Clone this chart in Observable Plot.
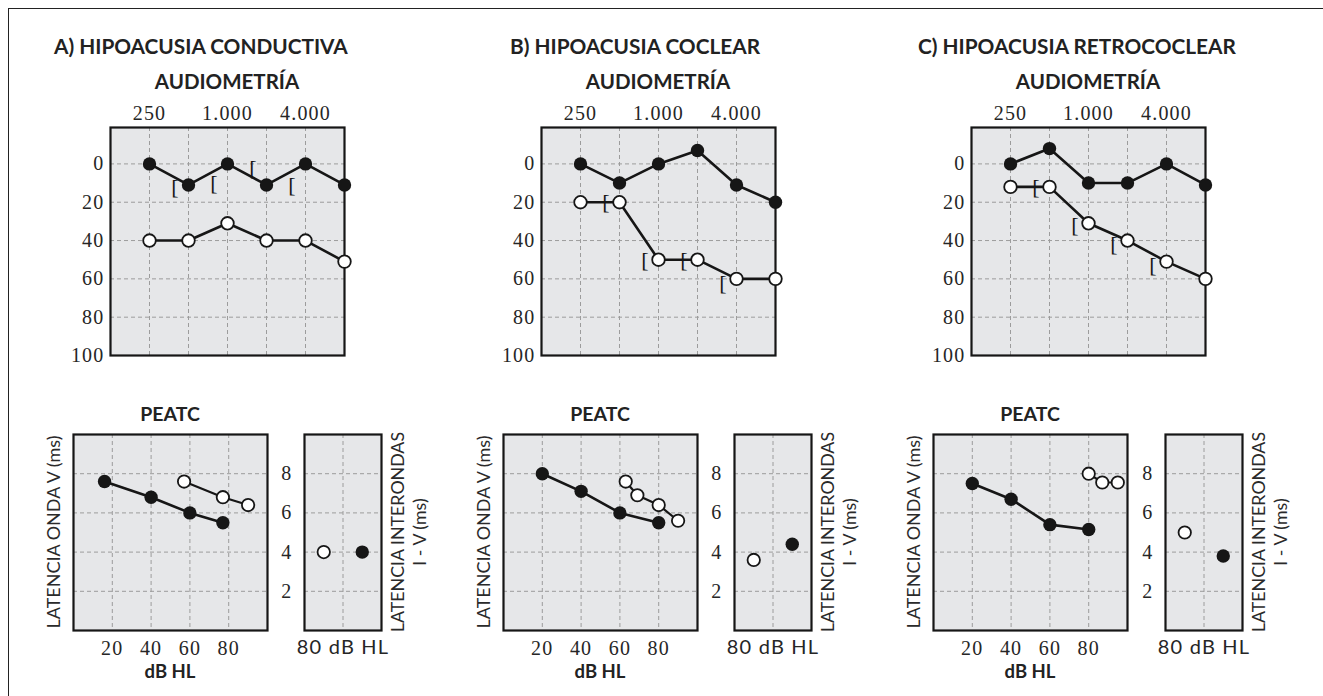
<!DOCTYPE html>
<html><head><meta charset="utf-8">
<script src="https://cdn.jsdelivr.net/npm/d3@7"></script>
<script src="https://cdn.jsdelivr.net/npm/@observablehq/plot@0.6"></script>
<style>
body{margin:0;background:#fff;}
#root{position:relative;width:1323px;height:696px;overflow:hidden;background:#fff;}
.t{position:absolute;white-space:nowrap;line-height:1;color:#222;}
.bold{font-family:Lato,"Open Sans",sans-serif;font-weight:700;}
.light{font-family:Lato,"Open Sans",sans-serif;font-weight:400;color:#2a2a2a;}
.frame{position:absolute;left:8px;top:8px;width:1400px;height:800px;border-left:1.5px solid #222;border-top:1.5px solid #222;}
</style></head>
<body><div id="root"><div class="frame"></div></div>
<script>
// ---------- DATA ----------
const titles = ["A) HIPOACUSIA CONDUCTIVA", "B) HIPOACUSIA COCLEAR", "C) HIPOACUSIA RETROCOCLEAR"];
const freqs = [250, 500, 1000, 2000, 4000, 8000];
const freqTicks = [250, 1000, 4000];
const dbTicks = [0, 20, 40, 60, 80, 100];
const dbGrid = [0, 20, 40, 60, 80];

// audiometry: filled (air, good ear) / open (affected ear) thresholds in dB
const audFilledA = [0, 11, 0, 11, 0, 11];
const audOpenA   = [40, 40, 31, 40, 40, 51];
const boneFreqA  = [500, 1000, 2000, 4000];
const boneA      = [12, 10, 2, 11];

const audFilledB = [0, 10, 0, -7, 11, 20];
const audOpenB   = [20, 20, 50, 50, 60, 60];
const boneFreqB  = [500, 1000, 2000, 4000];
const boneB      = [20, 50, 50, 62];

const audFilledC = [0, -8, 10, 10, 0, 11];
const audOpenC   = [12, 12, 31, 40, 51, 60];
const boneFreqC  = [500, 1000, 2000, 4000];
const boneC      = [12, 32, 42, 53];

// PEATC: wave V latency (ms) vs intensity (dB HL)
const peatcTicks = [20, 40, 60, 80];
const latTicks = [2, 4, 6, 8];
const pFilledXA = [16, 40, 60, 77], pFilledYA = [7.6, 6.8, 6.0, 5.5];
const pOpenXA   = [57, 77, 90],     pOpenYA   = [7.6, 6.8, 6.4];
const pFilledXB = [20, 40, 60, 80], pFilledYB = [8.0, 7.1, 6.0, 5.5];
const pOpenXB   = [63, 69, 80, 90], pOpenYB   = [7.6, 6.9, 6.4, 5.6];
const pFilledXC = [20, 40, 60, 80], pFilledYC = [7.5, 6.7, 5.4, 5.15];
const pOpenXC   = [80, 87, 95],     pOpenYC   = [8.0, 7.55, 7.55];

// interpeak I-V latency at 80 dB HL: [open, filled]
const interA = [4.0, 4.0];
const interB = [3.6, 4.4];
const interC = [5.0, 3.8];

// ---------- LAYOUT / STYLE ----------
const SERIF = '"Liberation Serif", "DejaVu Serif", serif';
const SANS = 'Lato, "Open Sans", sans-serif';
const INK = "#161616", BG = "#e6e7e9", GRID = "#9c9c9c";
const AUD_LEFT = [110, 541, 971], AUD_TOP = 127, AUD_W = 234, AUD_H = 228;
const P_LEFT = [73, 503, 933], P_TOP = 434, P_W = 194, P_H = 196;
const S_LEFT = [304, 734, 1165], S_W = 77;
const TITLE_LEFT = [54, 510, 918];
const tickStyle = {fontFamily: SERIF, fontSize: "20px", letterSpacing: "1.2px", color: "#262626", background: "transparent", overflow: "visible"};

const root = document.getElementById("root");
function place(el, left, top) {
  el.style.position = "absolute"; el.style.left = left + "px"; el.style.top = top + "px";
  root.appendChild(el);
}
function label(text, cls, left, top, size, extra) {
  const d = document.createElement("div");
  d.className = "t " + cls; d.textContent = text;
  d.style.left = left + "px"; d.style.top = top + "px"; d.style.fontSize = size + "px";
  if (extra) Object.assign(d.style, extra);
  root.appendChild(d); return d;
}
const fmtFreq = d => d3.format(",")(d).replace(/,/g, ".");

const panels = [
  {filled: audFilledA, open: audOpenA, boneF: boneFreqA, bone: boneA, pfx: pFilledXA, pfy: pFilledYA, pox: pOpenXA, poy: pOpenYA, inter: interA},
  {filled: audFilledB, open: audOpenB, boneF: boneFreqB, bone: boneB, pfx: pFilledXB, pfy: pFilledYB, pox: pOpenXB, poy: pOpenYB, inter: interB},
  {filled: audFilledC, open: audOpenC, boneF: boneFreqC, bone: boneC, pfx: pFilledXC, pfy: pFilledYC, pox: pOpenXC, poy: pOpenYC, inter: interC}
];

panels.forEach((p, i) => {
  // ---- audiogram ----
  const ml = 50, mt = 40, mr = 20, mb = 6;
  const filled = freqs.map((f, j) => ({f, v: p.filled[j]}));
  const open = freqs.map((f, j) => ({f, v: p.open[j]}));
  const bone = p.boneF.map((f, j) => ({f, v: p.bone[j]}));
  const aud = Plot.plot({
    width: AUD_W + ml + mr, height: AUD_H + mt + mb,
    marginLeft: ml, marginTop: mt, marginRight: mr, marginBottom: mb,
    style: tickStyle,
    x: {type: "log", base: 2, domain: [125, 8000], axis: null},
    y: {domain: [100, -19], axis: null},
    marks: [
      Plot.frame({fill: BG}),
      Plot.ruleX(freqs, {stroke: GRID, strokeDasharray: "4,3", strokeWidth: 1}),
      Plot.ruleY(dbGrid, {stroke: GRID, strokeDasharray: "4,3", strokeWidth: 1}),
      Plot.frame({stroke: INK, strokeWidth: 2.2}),
      Plot.axisX(freqTicks, {anchor: "top", tickSize: 0, tickPadding: 8, tickFormat: fmtFreq, label: null}),
      Plot.axisY(dbTicks, {anchor: "left", tickSize: 0, tickPadding: 6, label: null}),
      Plot.text(bone, {x: "f", y: "v", text: () => "[", dx: -13, fontSize: 22, fontFamily: SERIF, fill: INK}),
      Plot.line(filled, {x: "f", y: "v", stroke: INK, strokeWidth: 2.6}),
      Plot.line(open, {x: "f", y: "v", stroke: INK, strokeWidth: 2.6}),
      Plot.dot(filled, {x: "f", y: "v", r: 6.7, fill: INK}),
      Plot.dot(open, {x: "f", y: "v", r: 6.3, fill: "white", stroke: INK, strokeWidth: 1.8})
    ]
  });
  place(aud, AUD_LEFT[i] - ml, AUD_TOP - mt);

  // ---- PEATC main ----
  const pl = 10, pt = 10, pr = 10, pb = 50;
  const pf = p.pfx.map((x, j) => ({x, y: p.pfy[j]}));
  const po = p.pox.map((x, j) => ({x, y: p.poy[j]}));
  const pe = Plot.plot({
    width: P_W + pl + pr, height: P_H + pt + pb,
    marginLeft: pl, marginTop: pt, marginRight: pr, marginBottom: pb,
    style: tickStyle,
    x: {domain: [0, 100], axis: null},
    y: {domain: [0, 10], axis: null},
    marks: [
      Plot.frame({fill: BG}),
      Plot.ruleX(peatcTicks, {stroke: GRID, strokeDasharray: "4,3", strokeWidth: 1}),
      Plot.ruleY(latTicks, {stroke: GRID, strokeDasharray: "4,3", strokeWidth: 1}),
      Plot.frame({stroke: INK, strokeWidth: 2.2}),
      Plot.axisX(peatcTicks, {anchor: "bottom", tickSize: 0, tickPadding: 10, label: null}),
      Plot.line(pf, {x: "x", y: "y", stroke: INK, strokeWidth: 2.6}),
      Plot.line(po, {x: "x", y: "y", stroke: INK, strokeWidth: 2.2}),
      Plot.dot(pf, {x: "x", y: "y", r: 6.7, fill: INK}),
      Plot.dot(po, {x: "x", y: "y", r: 6.2, fill: "white", stroke: INK, strokeWidth: 1.8})
    ]
  });
  place(pe, P_LEFT[i] - pl, P_TOP - pt);

  // ---- interpeak I-V ----
  const sl = 40, st = 10, sr = 10, sb = 50;
  const inter = p.inter.map((y, j) => ({k: j + 0.5, y, open: j === 0}));
  const sm = Plot.plot({
    width: S_W + sl + sr, height: P_H + st + sb,
    marginLeft: sl, marginTop: st, marginRight: sr, marginBottom: sb,
    style: tickStyle,
    x: {domain: [0, 2], axis: null},
    y: {domain: [0, 10], axis: null},
    marks: [
      Plot.frame({fill: BG}),
      Plot.ruleX([1], {stroke: GRID, strokeDasharray: "4,3", strokeWidth: 1}),
      Plot.ruleY(latTicks, {stroke: GRID, strokeDasharray: "4,3", strokeWidth: 1}),
      Plot.frame({stroke: INK, strokeWidth: 2.2}),
      Plot.axisY(latTicks, {anchor: "left", tickSize: 0, tickPadding: 12, label: null}),
      Plot.axisX([1], {anchor: "bottom", tickSize: 0, tickPadding: 9, tickFormat: () => "80 dB HL", fontFamily: SANS, fontSize: 20, label: null}),
      Plot.dot(inter.filter(d => d.open), {x: "k", y: "y", r: 6.2, fill: "white", stroke: INK, strokeWidth: 1.8}),
      Plot.dot(inter.filter(d => !d.open), {x: "k", y: "y", r: 6.7, fill: INK})
    ]
  });
  place(sm, S_LEFT[i] - sl, P_TOP - st);

  // ---- texts ----
  label(titles[i], "bold", TITLE_LEFT[i], 36, 20.8);
  label("AUDIOMETRÍA", "bold", AUD_LEFT[i], 71, 20.5, {width: AUD_W + "px", textAlign: "center"});
  label("PEATC", "bold", P_LEFT[i], 404, 19.5, {width: P_W + "px", textAlign: "center"});
  label("dB HL", "bold", P_LEFT[i], 662, 18.5, {width: P_W + "px", textAlign: "center"});
  // left rotated label
  const cyLab = P_TOP + P_H / 2;
  label("LATENCIA ONDA V (ms)", "light", P_LEFT[i] - 20 - 110, cyLab - 9, 18,
        {width: "220px", textAlign: "center", height: "18px", transform: "rotate(-90deg)", transformOrigin: "50% 50%"});
  const r = label("", "light", S_LEFT[i] + S_W + 27 - 110, cyLab - 22, 17.8,
        {width: "220px", textAlign: "center", height: "44px", lineHeight: "22px", whiteSpace: "normal", transform: "rotate(-90deg)", transformOrigin: "50% 50%"});
  r.innerHTML = "LATENCIA INTERONDAS<br>I - V (ms)";
});
</script>
</body></html>
